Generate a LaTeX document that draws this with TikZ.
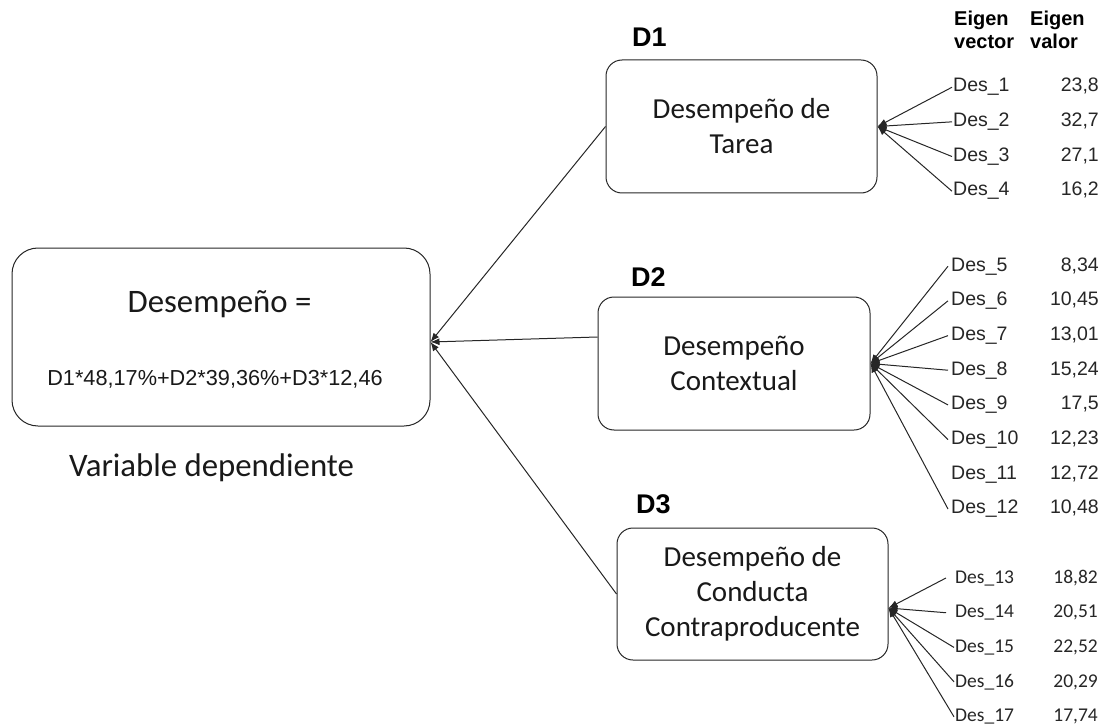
\documentclass[tikz,border=0pt]{standalone}
\usepackage{fontspec}
\setmainfont{Carlito}
\newfontfamily\arialf{Liberation Sans}
\usetikzlibrary{arrows.meta}

\begin{document}
\begin{tikzpicture}[x=1pt,y=-1pt,
  box/.style={draw=black!85, line width=1pt, rounded corners=16pt, align=center,
    inner sep=0pt, text=black!90, font=\fontsize{29}{35}\selectfont},
  bigtext/.style={font=\fontsize{32.8}{38}\selectfont, text=black!90, inner sep=0pt, anchor=base},
  formula/.style={font=\arialf\fontsize{21.7}{25}\selectfont, text=black!90, inner sep=0pt, anchor=base},
  dimlabel/.style={font=\arialf\bfseries\fontsize{27}{30}\selectfont, anchor=base west, inner sep=0pt},
  hdr/.style={font=\arialf\bfseries\fontsize{20}{23}\selectfont, align=left, anchor=north west, inner sep=0pt},
  itemA/.style={font=\arialf\fontsize{19.5}{23}\selectfont, text=black!85, anchor=base west, inner sep=0pt},
  valA/.style={font=\arialf\fontsize{19.5}{23}\selectfont, text=black!85, anchor=base east, inner sep=0pt},
  itemC/.style={font=\fontsize{19.5}{23}\selectfont, text=black!85, anchor=base west, inner sep=0pt},
  valC/.style={font=\fontsize{19.5}{23}\selectfont, text=black!85, anchor=base east, inner sep=0pt},
  link/.style={draw=black!85, line width=1pt, -{Latex[length=9pt,width=7pt]}}
]
\useasboundingbox (0,0) rectangle (1107,727);

% dependent variable
\node[box, rounded corners=26pt, minimum width=418pt, minimum height=178pt] (main) at (221,337) {};
\node[bigtext] (mainhead) at (219.5,312) {Desempeño =};
\node[formula] (mainform) at (215,385) {D1*48,17\%+D2*39,36\%+D3*12,46};
\node[bigtext] (vardep) at (211.5,476) {Variable dependiente};
\coordinate (mtip) at ([yshift=-5pt]main.east);

% dimensions
\node[box, minimum width=271pt, minimum height=133pt] (b1) at (741.5,126.5) {Desempeño de\\Tarea};
\node[box, minimum width=272pt, minimum height=133pt] (b2) at (734,363.5) {Desempeño\\Contextual};
\node[box, minimum width=271pt, minimum height=132pt] (b3) at (752.5,594) {Desempeño de\\Conducta\\Contraproducente};
\node[dimlabel] (l1) at (632,47) {D1};
\node[dimlabel] (l2) at (631,286) {D2};
\node[dimlabel] (l3) at (636,513) {D3};

\draw[link] (b1.west) -- (mtip);
\draw[link] ([yshift=26.5pt]b2.west) -- (mtip);
\draw[link] (b3.west) -- (mtip);

% column headers
\node[hdr] (hvec) at (954,11) {Eigen\\vector};
\node[hdr] (hval) at (1030,11) {Eigen\\valor};

% items of D1
\foreach \n/\val/\yb in {1/{23,8}/92, 2/{32,7}/126.7, 3/{27,1}/161.4, 4/{16,2}/196}{
  \node[itemA] (d\n) at (953,\yb) {Des\_\n};
  \node[valA] (v\n) at (1099,\yb) {\val};
  \draw[link] ([xshift=-1pt]d\n.west) -- (b1.east);
}

% items of D2
\coordinate (t2) at ([yshift=0pt]b2.east);
\foreach \n/\val/\yb in {5/{8,34}/271, 6/{10,45}/305.7, 7/{13,01}/340.4, 8/{15,24}/375.1,
    9/{17,5}/409.8, 10/{12,23}/444.5, 11/{12,72}/479.2, 12/{10,48}/513.9}{
  \node[itemA] (d\n) at (951,\yb) {Des\_\n};
  \node[valA] (v\n) at (1099,\yb) {\val};
  \ifnum\n=11\relax\else
    \draw[link] ([xshift=-3pt]d\n.west) -- (t2);
  \fi
}

% items of D3
\coordinate (t3) at ([yshift=-14pt]b3.east);
\foreach \n/\val/\yb/\sh in {13/{18,82}/583/-9, 14/{20,51}/617.7/-9, 15/{22,52}/652.4/-1,
    16/{20,29}/687.1/-1, 17/{17,74}/721.8/-1}{
  \node[itemC] (d\n) at (955,\yb) {Des\_\n};
  \node[valC] (v\n) at (1098,\yb) {\val};
  \draw[link] ([xshift=\sh pt]d\n.west) -- (t3);
}
\end{tikzpicture}
\end{document}
